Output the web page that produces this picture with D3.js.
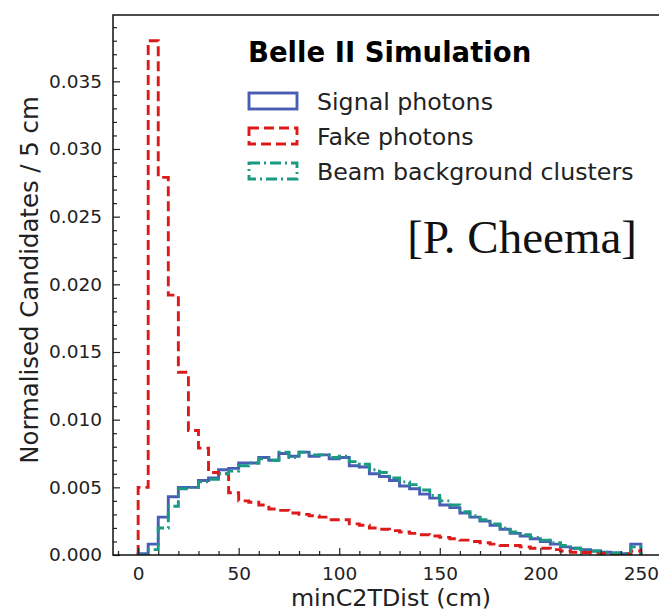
<!DOCTYPE html>
<html>
<head>
<meta charset="utf-8">
<script src="https://cdn.jsdelivr.net/npm/d3@7"></script>
<style>
  html, body { margin: 0; padding: 0; background: #fff; }
  svg { display: block; }
</style>
</head>
<body>
<svg id="chart" width="659" height="611"></svg>
<script>
// ---- Data (bin width 5 cm, left edges 0..245) ----
const binEdges = d3.range(0, 255, 5); // 0,5,...,250
const signalPhotons = [
  0.0001, 0.0008, 0.0028, 0.0043, 0.0050, 0.0050, 0.0055, 0.0057, 0.0063, 0.0064,
  0.0068, 0.0068, 0.0072, 0.0070, 0.0075, 0.0073, 0.0076, 0.0073, 0.0074, 0.0071,
  0.0072, 0.0066, 0.0065, 0.0060, 0.0058, 0.0055, 0.0051, 0.0049, 0.0045, 0.0042,
  0.0037, 0.0035, 0.0031, 0.0028, 0.0025, 0.0022, 0.0019, 0.0016, 0.0014, 0.0012,
  0.0010, 0.0008, 0.0006, 0.0005, 0.0004, 0.0003, 0.0002, 0.00015, 0.0001, 0.0008
];
const fakePhotons = [
  0.0050, 0.0380, 0.0279, 0.0192, 0.0135, 0.0092, 0.0079, 0.0061, 0.0060, 0.0046,
  0.0040, 0.0039, 0.0037, 0.0034, 0.0033, 0.0031, 0.0030, 0.0029, 0.0028, 0.0026,
  0.0026, 0.0023, 0.0022, 0.0020, 0.0019, 0.0018, 0.0017, 0.0016, 0.0015, 0.0014,
  0.0013, 0.0012, 0.0011, 0.0010, 0.0009, 0.0008, 0.0007, 0.0007, 0.0006, 0.0005,
  0.0005, 0.0004, 0.0003, 0.0002, 0.00018, 0.00015, 0.00012, 0.0001, 0.0001, 0.0003
];
const beamBackground = [
  0.0000, 0.0004, 0.0020, 0.0036, 0.0049, 0.0050, 0.0054, 0.0056, 0.0060, 0.0062,
  0.0066, 0.0068, 0.0071, 0.0070, 0.0076, 0.0072, 0.0076, 0.0074, 0.0074, 0.0072,
  0.0073, 0.0069, 0.0067, 0.0063, 0.0061, 0.0057, 0.0054, 0.0052, 0.0048, 0.0044,
  0.0040, 0.0037, 0.0032, 0.0029, 0.0026, 0.0023, 0.0020, 0.0017, 0.0015, 0.0013,
  0.0011, 0.0009, 0.0007, 0.0005, 0.0004, 0.0003, 0.0002, 0.00015, 0.0001, 0.0006
];
const seriesNames = ["Signal photons", "Fake photons", "Beam background clusters"];
const xTicks = [0, 50, 100, 150, 200, 250];
const yTicks = [0, 0.005, 0.010, 0.015, 0.020, 0.025, 0.030, 0.035];

// ---- Layout ----
const svg = d3.select("#chart");
const mL = 113, mR = 666, mT = 15, mB = 555;
const x = d3.scaleLinear().domain([-12.5, 262.5]).range([mL, mR]);
const y = d3.scaleLinear().domain([0, 0.0399]).range([mB, mT]);

const styles = [
  { color: "#4a5db5", dash: null, data: signalPhotons },
  { color: "#dd1a1a", dash: "10,5", data: fakePhotons },
  { color: "#1b9a82", dash: "11,4,2,4", data: beamBackground }
];

svg.append("defs").append("clipPath").attr("id", "clip")
  .append("rect").attr("x", mL).attr("y", mT).attr("width", mR - mL).attr("height", mB - mT);

// Step outline points
function stepPoints(vals) {
  const pts = [[binEdges[0], 0]];
  vals.forEach((v, i) => { pts.push([binEdges[i], v]); pts.push([binEdges[i + 1], v]); });
  pts.push([binEdges[binEdges.length - 1], 0]);
  return pts;
}
const line = d3.line().x(d => x(d[0])).y(d => y(d[1]));

const plot = svg.append("g").attr("clip-path", "url(#clip)");
styles.forEach(s => {
  plot.append("path")
    .attr("d", line(stepPoints(s.data)))
    .attr("fill", "none")
    .attr("stroke", s.color)
    .attr("stroke-width", 2.9)
    .attr("stroke-dasharray", s.dash)
    .attr("stroke-linejoin", "miter");
});

// ---- Axes ----
const tickFont = "DejaVu Sans, sans-serif";
const xAxis = d3.axisBottom(x).tickValues(xTicks).tickSizeInner(-7).tickSizeOuter(0).tickPadding(12)
  .tickFormat(d3.format("d"));
const gx = svg.append("g").attr("transform", `translate(0,${mB})`).call(xAxis);
const xMinor = d3.axisBottom(x).tickValues(d3.range(-10, 262, 10).filter(v => v % 50 !== 0))
  .tickSizeInner(-4).tickSizeOuter(0).tickFormat("");
const gxm = svg.append("g").attr("transform", `translate(0,${mB})`).call(xMinor);

const yAxis = d3.axisLeft(y).tickValues(yTicks).tickSizeInner(-7).tickSizeOuter(0).tickPadding(11)
  .tickFormat(d3.format(".3f"));
const gy = svg.append("g").attr("transform", `translate(${mL},0)`).call(yAxis);
const yMinor = d3.axisLeft(y).tickValues(d3.range(1, 40).map(i => i * 0.001).filter(v => Math.round(v * 1000) % 5 !== 0))
  .tickSizeInner(-4).tickSizeOuter(0).tickFormat("");
const gym = svg.append("g").attr("transform", `translate(${mL},0)`).call(yMinor);

[gx, gxm, gy, gym].forEach(g => {
  g.select(".domain").remove();
  g.selectAll("line").attr("stroke", "#222").attr("stroke-width", 1.2);
  g.selectAll("text").attr("font-family", tickFont).attr("font-size", 18.5).attr("fill", "#222");
});

// Spines
svg.append("rect").attr("x", mL).attr("y", mT).attr("width", mR - mL).attr("height", mB - mT)
  .attr("fill", "none").attr("stroke", "#111").attr("stroke-width", 1.5);

// Axis labels
svg.append("text").attr("x", 391).attr("y", 606)
  .attr("text-anchor", "middle").attr("font-family", tickFont).attr("font-size", 23.8).attr("fill", "#222")
  .text("minC2TDist (cm)");
svg.append("text").attr("transform", `translate(38,280) rotate(-90)`)
  .attr("text-anchor", "middle").attr("font-family", tickFont).attr("font-size", 24.4).attr("fill", "#222")
  .text("Normalised Candidates / 5 cm");

// Legend
svg.append("text").attr("x", 248).attr("y", 62).attr("font-family", tickFont).attr("font-weight", "bold")
  .attr("font-size", 27.5).attr("fill", "#000").text("Belle II Simulation");
const leg = svg.append("g");
styles.forEach((s, i) => {
  const yy = 93 + i * 35;
  leg.append("rect").attr("x", 249).attr("y", yy).attr("width", 48).attr("height", 16)
    .attr("fill", "none").attr("stroke", s.color).attr("stroke-width", 2.9)
    .attr("stroke-dasharray", s.dash);
  leg.append("text").attr("x", 317).attr("y", yy + 17).attr("font-family", tickFont)
    .attr("font-size", 23.7).attr("fill", "#222").text(seriesNames[i]);
});

// Credit
svg.append("text").attr("x", 637).attr("y", 253).attr("text-anchor", "end")
  .attr("font-family", "Liberation Serif, serif").attr("font-size", 47).attr("fill", "#111")
  .text("[P. Cheema]");
</script>
</body>
</html>
